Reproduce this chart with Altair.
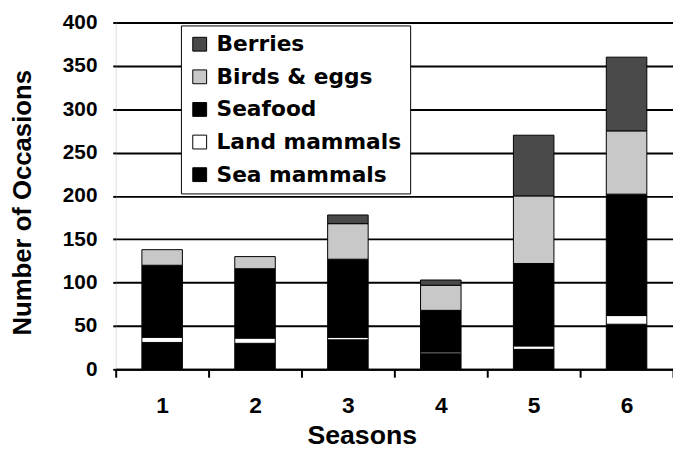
import altair as alt
import pandas as pd

seasons = ["1", "2", "3", "4", "5", "6"]
stack_categories = ["Sea mammals", "Land mammals", "Seafood", "Birds & eggs", "Berries"]
sea_mammals = [31, 30, 34, 18, 23, 52]
land_mammals = [6, 6, 3, 2, 4, 10]
seafood = [83, 80, 90, 48, 95, 140]
birds_eggs = [18, 14, 41, 29, 78, 73]
berries = [0, 0, 10, 6, 70, 85]
legend_order = ["Berries", "Birds & eggs", "Seafood", "Land mammals", "Sea mammals"]
legend_colors = ["#4a4a4a", "#c8c8c8", "#000000", "#ffffff", "#000000"]
y_ticks = [0, 50, 100, 150, 200, 250, 300, 350, 400]

series = [sea_mammals, land_mammals, seafood, birds_eggs, berries]
rows = []
for i, s in enumerate(seasons):
    for k, cat in enumerate(stack_categories):
        v = series[k][i]
        if v > 0:
            rows.append({"Season": s, "Food": cat, "Count": v, "stack": k})
df = pd.DataFrame(rows)

FONT = "Liberation Sans"

chart = alt.Chart(df).mark_bar(size=41, stroke="black", strokeWidth=1).encode(
    x=alt.X(
        "Season:O", sort=seasons,
        scale=alt.Scale(paddingInner=0, paddingOuter=0),
        axis=alt.Axis(
            title="Seasons", labelAngle=0, tickBand="extent", grid=False,
            domainColor="black", domainWidth=2, tickColor="black", tickWidth=2,
            tickSize=8, labelFont=FONT, labelFontWeight="bold", labelFontSize=23,
            labelColor="black", labelPadding=18, titleFont=FONT,
            titleFontWeight="bold", titleFontSize=27, titleColor="black",
            titleX=249, titleY=75, titleBaseline="alphabetic",
        ),
    ),
    y=alt.Y(
        "Count:Q", stack="zero",
        scale=alt.Scale(domain=[0, 400], nice=False),
        axis=alt.Axis(
            values=y_ticks, title="Number of Occasions", grid=True,
            gridColor="black", gridWidth=2, gridOpacity=1, domain=False,
            tickColor="black", tickWidth=2, tickSize=3, labelFont=FONT,
            labelFontWeight="bold", labelFontSize=21, labelColor="black",
            labelPadding=16, titleFont=FONT, titleFontWeight="bold",
            titleFontSize=26, titleColor="black", titleX=-86, titleY=182,
            titleBaseline="alphabetic",
        ),
    ),
    color=alt.Color(
        "Food:N",
        scale=alt.Scale(domain=legend_order, range=legend_colors),
        legend=alt.Legend(
            title=None, orient="none", legendX=66, legendY=3,
            fillColor="white", strokeColor="black", padding=8,
            symbolType="square", symbolSize=196, symbolStrokeColor="black",
            symbolStrokeWidth=1, symbolOpacity=1, labelFont="DejaVu Sans",
            labelFontWeight="bold", labelFontSize=22, labelColor="black",
            rowPadding=11, labelOffset=6, labelLimit=400,
        ),
    ),
    order=alt.Order("stack:Q", sort="ascending"),
).properties(
    width=564, height=351,
    padding={"left": 109, "top": 12, "right": 0, "bottom": 79},
    autosize=alt.AutoSizeParams(type="none"),
).configure_view(stroke=None).configure(background="white")

chart.save("out.html", embed_options={"renderer": "svg", "actions": False})
